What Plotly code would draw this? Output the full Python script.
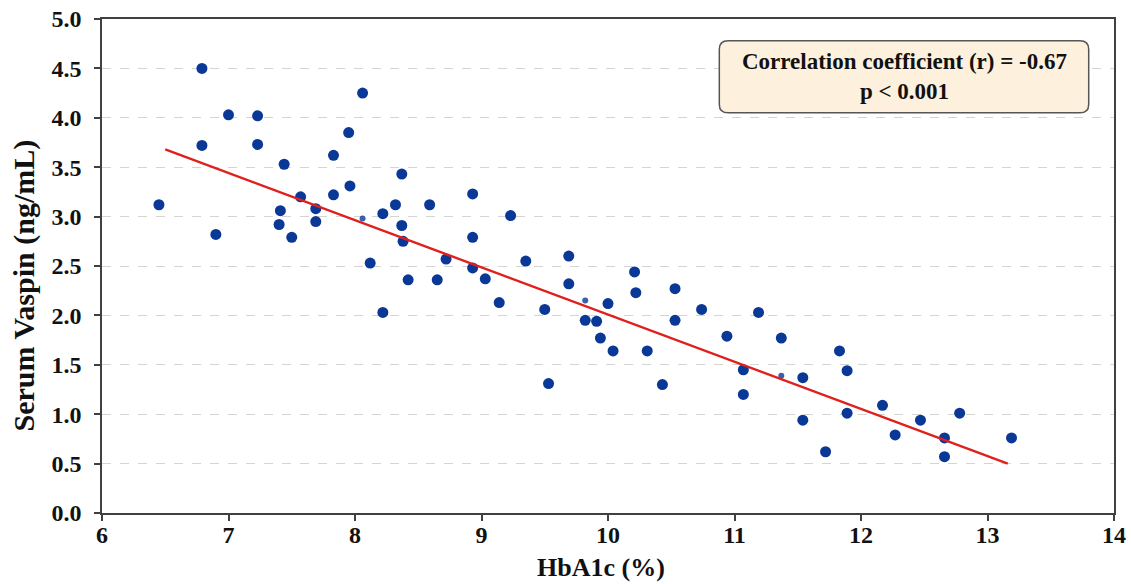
import plotly.graph_objects as go

# HbA1c (%) and serum vaspin (ng/mL)
hba1c = [6.45, 6.79, 6.79, 6.90, 7.00, 7.23, 7.23, 7.44, 7.41, 7.40, 7.50, 7.57,
         7.69, 7.69, 7.83, 7.83, 7.95, 7.96, 8.06, 8.12, 8.22, 8.22, 8.32, 8.37,
         8.37, 8.38, 8.42, 8.59, 8.65, 8.72, 8.93, 8.93, 8.93, 9.03, 9.14, 9.23,
         9.35, 9.50, 9.53, 9.69, 9.69, 9.82, 9.91, 9.94, 10.00, 10.04, 10.21,
         10.22, 10.31, 10.43, 10.53, 10.53, 10.74, 10.94, 11.07, 11.07, 11.19,
         11.37, 11.54, 11.54, 11.72, 11.83, 11.89, 11.89, 12.17, 12.27, 12.47,
         12.66, 12.66, 12.78, 13.19]
vaspin = [3.12, 4.50, 3.72, 2.82, 4.03, 4.02, 3.73, 3.53, 3.06, 2.92, 2.79, 3.20,
          3.08, 2.95, 3.22, 3.62, 3.85, 3.31, 4.25, 2.53, 3.03, 2.03, 3.12, 3.43,
          2.91, 2.75, 2.36, 3.12, 2.36, 2.57, 3.23, 2.79, 2.48, 2.37, 2.13, 3.01,
          2.55, 2.06, 1.31, 2.60, 2.32, 1.95, 1.94, 1.77, 2.12, 1.64, 2.44,
          2.23, 1.64, 1.30, 2.27, 1.95, 2.06, 1.79, 1.45, 1.20, 2.03,
          1.77, 1.37, 0.94, 0.62, 1.64, 1.44, 1.01, 1.09, 0.79, 0.94,
          0.76, 0.57, 1.01, 0.76]

# faint / partly hidden points under the fit line
hba1c_faint = [8.06, 9.82, 11.37]
vaspin_faint = [2.98, 2.15, 1.39]

# regression line end points
fit_x = [6.50, 13.16]
fit_y = [3.68, 0.50]

x_ticks = [6, 7, 8, 9, 10, 11, 12, 13, 14]
y_ticks = [0.0, 0.5, 1.0, 1.5, 2.0, 2.5, 3.0, 3.5, 4.0, 4.5, 5.0]

x_title = "HbA1c (%)"
y_title = "Serum Vaspin (ng/mL)"
stat_text = "Correlation coefficient (r) = -0.67<br>p &lt; 0.001"

FONT = "Liberation Serif, Times New Roman, serif"
DOT = "#0a3896"
INK = "#111111"

fig = go.Figure()
fig.add_trace(go.Scatter(x=hba1c_faint, y=vaspin_faint, mode="markers",
                         marker=dict(size=6, color=DOT, opacity=0.8),
                         showlegend=False, hoverinfo="skip"))
fig.add_trace(go.Scatter(x=hba1c, y=vaspin, mode="markers",
                         marker=dict(size=11, color=DOT),
                         showlegend=False))
fig.add_trace(go.Scatter(x=fit_x, y=fit_y, mode="lines",
                         line=dict(color="#e0201c", width=2.4),
                         showlegend=False))

# rounded annotation box (data coordinates)
x0, x1, y0, y1 = 10.88, 13.80, 4.05, 4.78
rx, ry = 0.07, 0.085
path = (f"M {x0+rx},{y0} L {x1-rx},{y0} Q {x1},{y0} {x1},{y0+ry} "
        f"L {x1},{y1-ry} Q {x1},{y1} {x1-rx},{y1} L {x0+rx},{y1} "
        f"Q {x0},{y1} {x0},{y1-ry} L {x0},{y0+ry} Q {x0},{y0} {x0+rx},{y0} Z")
fig.add_shape(type="path", path=path, xref="x", yref="y",
              fillcolor="#fdf1de", line=dict(color="#555555", width=1.5),
              layer="above")
fig.add_annotation(x=(x0 + x1) / 2, y=(y0 + y1) / 2, xref="x", yref="y",
                   text=stat_text, showarrow=False, align="center",
                   font=dict(family=FONT, size=23, color=INK, weight="bold"))

# axis titles (placed as in the reference, slightly off-centre)
fig.add_annotation(text=y_title, textangle=-90, showarrow=False,
                   xref="paper", yref="paper", x=0, y=0.4605,
                   xanchor="center", yanchor="middle", xshift=-78,
                   font=dict(family=FONT, size=30, color=INK, weight="bold"))
fig.add_annotation(text=x_title, showarrow=False,
                   xref="paper", yref="paper", x=0.493, y=0,
                   xanchor="center", yanchor="middle", yshift=-54,
                   font=dict(family=FONT, size=26, color=INK, weight="bold"))

axis_common = dict(showline=True, linecolor="#404040", linewidth=1.5, mirror=True,
                   ticks="outside", ticklen=6, tickcolor="#404040", tickwidth=1.5,
                   zeroline=False, automargin=False,
                   tickfont=dict(family=FONT, size=24, color=INK, weight="bold"))

fig.update_xaxes(range=[6, 14], tickvals=x_ticks, showgrid=False,
                 ticklabelstandoff=-7, **axis_common)
fig.update_yaxes(range=[0, 5], tickvals=y_ticks, tickformat=".1f",
                 showgrid=True, gridcolor="#d4d4d4", griddash="dash", gridwidth=1,
                 ticklabelstandoff=8, **axis_common)

fig.update_layout(width=1131, height=584,
                  margin=dict(l=102, r=17, t=19, b=71),
                  plot_bgcolor="white", paper_bgcolor="white")

fig.write_html("out.html", config={"displayModeBar": False},
               post_script="document.body.style.margin='0';document.body.style.overflow='hidden';")
